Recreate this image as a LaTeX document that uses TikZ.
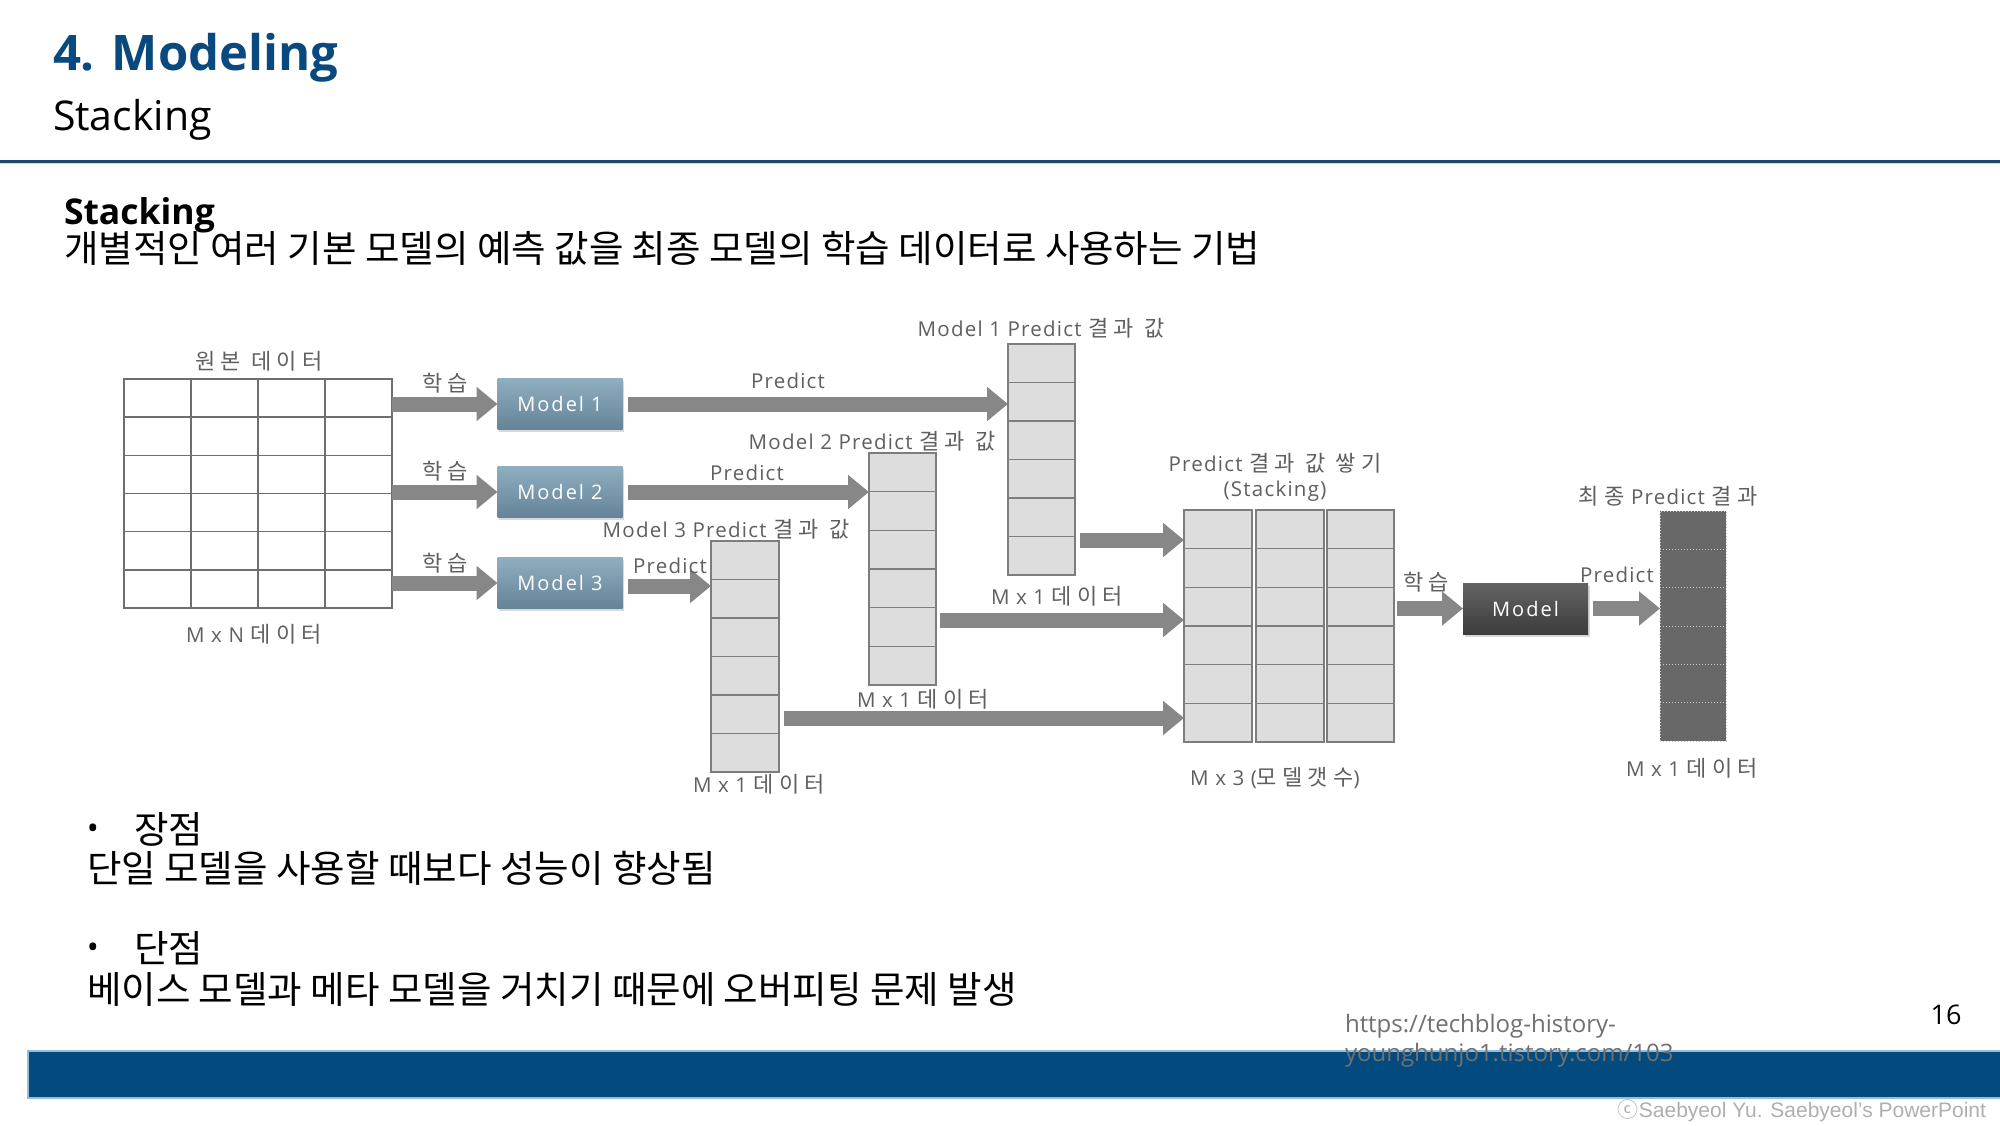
\documentclass[tikz,border=0pt]{standalone}
\usepackage{fontspec}
\setmainfont{Open Sans}
\newfontfamily\kr{Noto Sans CJK KR}
\newfontfamily\dlat[LetterSpace=6]{Open Sans}
\newfontfamily\dkr[LetterSpace=24]{Noto Sans CJK KR}
\newfontfamily\mfont[LetterSpace=10]{Open Sans}
\newfontfamily\arialf{Liberation Sans}
\usetikzlibrary{arrows.meta,shadows,calc}

\definecolor{titleblue}{RGB}{10,73,125}
\definecolor{barblue}{RGB}{3,74,126}
\definecolor{ruledark}{RGB}{28,72,112}
\definecolor{rulelight}{RGB}{190,218,240}
\definecolor{arrowgray}{RGB}{135,135,135}
\definecolor{cellfill}{RGB}{221,221,221}
\definecolor{cellline}{RGB}{125,125,125}
\definecolor{gridgray}{RGB}{110,110,110}
\definecolor{labelgray}{RGB}{95,95,95}
\definecolor{modeltop}{RGB}{143,174,192}
\definecolor{modelbot}{RGB}{100,131,151}
\definecolor{darktop}{RGB}{100,100,100}
\definecolor{darkbot}{RGB}{60,60,60}
\definecolor{finalfill}{RGB}{104,104,104}
\definecolor{finaldot}{RGB}{200,200,200}
\definecolor{urlgray}{RGB}{112,112,112}
\definecolor{copygray}{RGB}{175,175,175}

% Korean words inside diagram labels
\newcommand{\hk}[1]{{\dkr\fontsize{22}{24}\selectfont #1}}

% one data column of six cells
\newcommand{\datacol}[5]{%
  \node[colbox, minimum width=#4pt, minimum height=#5pt, anchor=north west] (#1) at (#2,#3) {};
  \foreach \k in {1,...,5}
    \draw[colline] ($(#1.north west)+(0,\k*#5/6)$) -- ($(#1.north east)+(0,\k*#5/6)$);
}

\begin{document}
\begin{tikzpicture}[x=1pt,y=-1pt,
  txt/.style={inner sep=0pt, outer sep=0pt},
  lbl/.style={txt, text=labelgray, font=\dlat\fontsize{20.5}{24}\selectfont},
  gridline/.style={draw=gridgray, line width=1.5pt},
  colbox/.style={draw=cellline, fill=cellfill, line width=1.5pt, inner sep=0pt, outer sep=0pt},
  colline/.style={draw=cellline, line width=1.5pt},
  modelbox/.style={minimum width=125pt, minimum height=51pt, inner sep=0pt, outer sep=0pt,
    top color=modeltop, bottom color=modelbot, text=white,
    font=\mfont\fontsize{20}{22}\selectfont,
    drop shadow={opacity=0.3, shadow xshift=1.5pt, shadow yshift=-2.5pt}},
  finalbox/.style={modelbox, top color=darktop, bottom color=darkbot},
  bigarrow/.style={draw=arrowgray, line width=15pt, -{Triangle[length=21pt,width=33pt]}},
]
\useasboundingbox (0,0) rectangle (2000,1125);
\fill[white] (0,0) rectangle (2000,1125);

% ---- header ----
\node[txt, anchor=base west, text=titleblue, font=\bfseries\fontsize{49}{54}\selectfont] (title) at (53,70) {4. Modeling};
\node[txt, anchor=base west, font=\fontsize{41}{44}\selectfont] (subtitle) at (53,130) {Stacking};
\draw[ruledark, line width=3pt] (0,161) -- (2000,161);
\draw[rulelight, line width=1.5pt] (0,163.5) -- (2000,163.5);

\node[txt, anchor=base west, font=\bfseries\fontsize{35.5}{40}\selectfont] (sechead) at (64,224) {Stacking};
\node[txt, anchor=base west, font=\kr\fontsize{37.5}{40}\selectfont] (intro) at (64,262) {개별적인 여러 기본 모델의 예측 값을 최종 모델의 학습 데이터로 사용하는 기법};

% ---- original data grid ----
\node[draw=gridgray, line width=1.5pt, fill=white, minimum width=268pt, minimum height=229pt, inner sep=0pt, outer sep=0pt, anchor=north west] (grid) at (124,379) {};
\foreach \i in {1,2,3}
  \draw[gridline] ($(grid.north west)+(\i*67,0)$) -- ($(grid.south west)+(\i*67,0)$);
\foreach \j in {1,...,5}
  \draw[gridline] ($(grid.north west)+(0,\j*229/6)$) -- ($(grid.north east)+(0,\j*229/6)$);
\node[lbl] (lorig) at (259,361) {\hk{원본 데이터}};
\node[lbl] (lmxn) at (254,634) {M x N \hk{데이터}};

% ---- base models ----
\node[modelbox] (m1) at (560,404) {Model 1};
\node[modelbox] (m2) at (560,492) {Model 2};
\node[modelbox] (m3) at (560,583) {Model 3};
\draw[bigarrow] (grid.east |- m1.west) -- (m1.west);
\draw[bigarrow] (grid.east |- m2.west) -- (m2.west);
\draw[bigarrow] (grid.east |- m3.west) -- (m3.west);
\node[lbl] (fit1) at (445,383) {\hk{학습}};
\node[lbl] (fit2) at (445,471) {\hk{학습}};
\node[lbl] (fit3) at (445,563) {\hk{학습}};

% ---- prediction columns ----
\datacol{c1}{1008}{344}{67}{231}
\datacol{c2}{869}{453}{67}{232}
\datacol{c3}{711}{541}{68}{231}
\draw[bigarrow] ($(m1.east)+(5,0)$) -- (c1.west |- m1.east);
\draw[bigarrow] ($(m2.east)+(5,0)$) -- (c2.west |- m2.east);
\draw[bigarrow] ($(m3.east)+(5,3)$) -- ($(c3.west |- m3.east)+(0,3)$);
\node[lbl] (p1) at (788,381) {Predict};
\node[lbl] (p2) at (747,473) {Predict};
\node[lbl] (p3) at (670,566) {Predict};
\node[lbl] (h1) at (1041,328) {Model 1 Predict \hk{결과 값}};
\node[lbl] (h2) at (872,441) {Model 2 Predict \hk{결과 값}};
\node[lbl] (h3) at (726,529) {Model 3 Predict \hk{결과 값}};
\node[lbl] (d1) at (1057,596) {M x 1 \hk{데이터}};
\node[lbl] (d2) at (923,699) {M x 1 \hk{데이터}};
\node[lbl] (d3) at (759,784) {M x 1 \hk{데이터}};

% ---- stacked matrix ----
\datacol{s1}{1184}{510}{68}{232}
\datacol{s2}{1256}{510}{68}{232}
\datacol{s3}{1327}{510}{67}{232}
\coordinate (t1) at ($(s1.north west)+(0,30)$);
\coordinate (t2) at ($(s1.north west)+(0,110)$);
\coordinate (t3) at ($(s1.north west)+(0,208)$);
\draw[bigarrow] ($(c1.east |- t1)+(5,0)$) -- (t1);
\draw[bigarrow] ($(c2.east |- t2)+(4,0)$) -- (t2);
\draw[bigarrow] ($(c3.east |- t3)+(5,0)$) -- (t3);
\node[lbl] (sh1) at (1275,463) {Predict \hk{결과 값 쌓기}};
\node[lbl] (sh2) at (1275,491) {(Stacking)};
\node[lbl] (sd) at (1275,778) {M x 3 (\hk{모델갯수})};

% ---- meta model and final prediction ----
\node[finalbox] (fm) at (1525.5,608.5) {Model};
\draw[bigarrow] ($(s3.east |- fm.west)+(3,0)$) -- (fm.west);
\node[lbl] (fit4) at (1426,582) {\hk{학습}};
\node[draw=finaldot, dotted, line width=1pt, fill=finalfill, minimum width=66pt, minimum height=230pt, inner sep=0pt, outer sep=0pt, anchor=north west] (fc) at (1660,511) {};
\foreach \k in {1,...,5}
  \draw[finaldot, dotted, line width=1pt] ($(fc.north west)+(0,\k*230/6)$) -- ($(fc.north east)+(0,\k*230/6)$);
\draw[bigarrow] ($(fm.east)+(5,0)$) -- (fc.west |- fm.east);
\node[lbl] (p4) at (1617,575) {Predict};
\node[lbl] (fh) at (1668,496) {\hk{최종} Predict \hk{결과}};
\node[lbl] (fd) at (1692,768) {M x 1 \hk{데이터}};

% ---- pros and cons ----
\node[txt, font=\fontsize{32}{34}\selectfont] (b1) at (93,832) {•};
\node[txt, anchor=base west, font=\kr\fontsize{37.5}{40}\selectfont] (pro) at (134,843) {장점};
\node[txt, anchor=base west, font=\kr\fontsize{37.5}{40}\selectfont] (protext) at (87,882) {단일 모델을 사용할 때보다 성능이 향상됨};
\node[txt, font=\fontsize{32}{34}\selectfont] (b2) at (93,951) {•};
\node[txt, anchor=base west, font=\kr\fontsize{37.5}{40}\selectfont] (con) at (134,962) {단점};
\node[txt, anchor=base west, font=\kr\fontsize{37.5}{40}\selectfont] (context) at (87,1003) {베이스 모델과 메타 모델을 거치기 때문에 오버피팅 문제 발생};

% ---- footer ----
\fill[barblue] (28,1051) rectangle (2000,1098);
\draw[rulelight!80!barblue, line width=1.2pt] (2000,1051) -- (28,1051) -- (28,1098) -- (2000,1098);
\node[txt, anchor=base west, text=urlgray, font=\fontsize{24}{26}\selectfont] (url1) at (1345,1032) {https://techblog-history-};
\node[txt, anchor=base west, text=urlgray, font=\fontsize{24}{26}\selectfont] (url2) at (1345,1061) {younghunjo1.tistory.com/103};
\node[txt, anchor=base, font=\fontsize{27}{30}\selectfont] (page) at (1946,1024) {16};
\node[txt, anchor=base east, text=copygray, font=\arialf\fontsize{21}{24}\selectfont] (copy) at (1986,1117) {{\kr ⓒ}Saebyeol Yu. Saebyeol’s PowerPoint};
\end{tikzpicture}
\end{document}
